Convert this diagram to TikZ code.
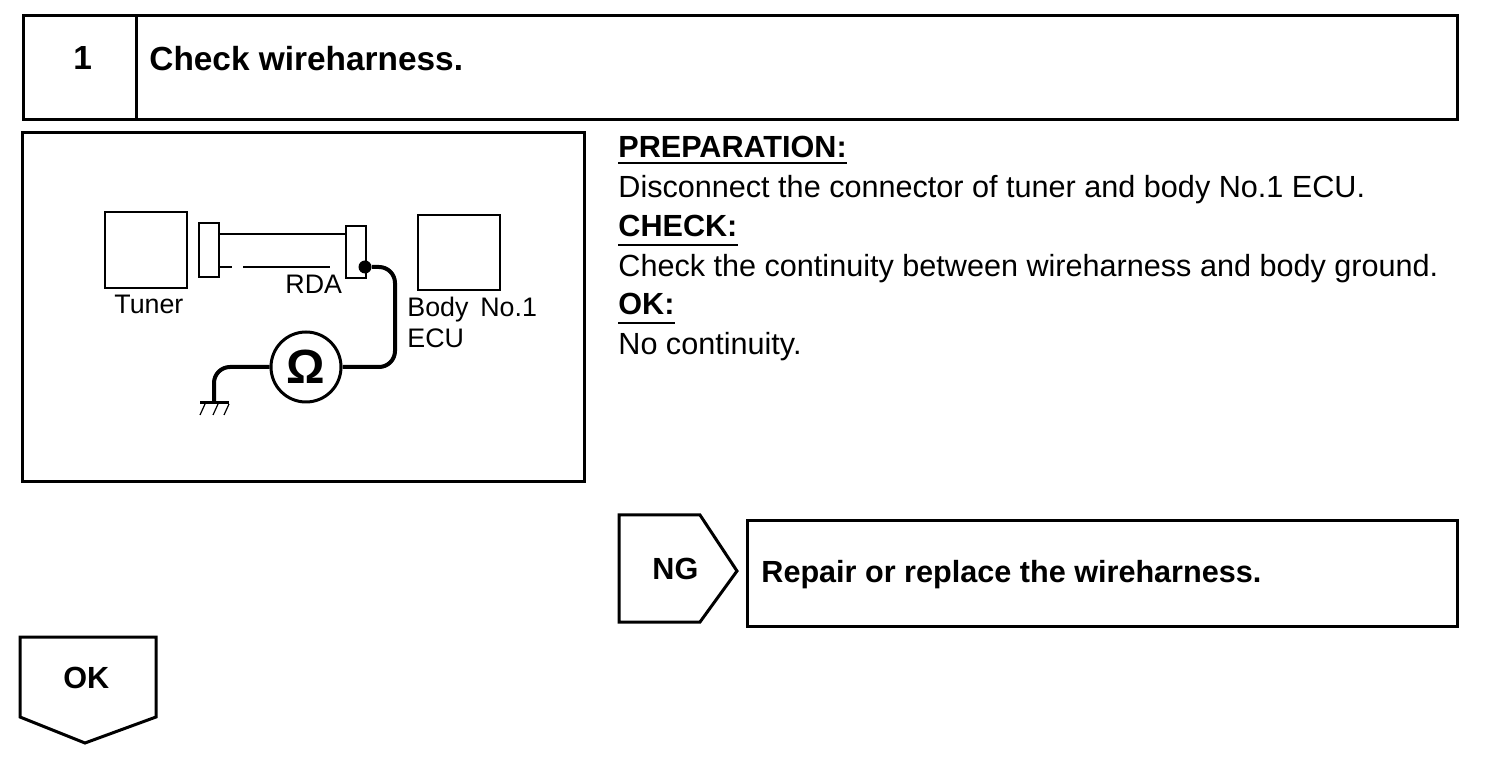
\documentclass[tikz,border=0pt]{standalone}
\usepackage{fontspec}
\setmainfont{Liberation Sans}
\usetikzlibrary{positioning,calc}

\begin{document}
\begin{tikzpicture}[x=0.5pt, y=-0.5pt,
    step cell/.style={rectangle, draw, line width=1.7pt, inner sep=0pt, anchor=north west},
    frame box/.style={rectangle, draw, line width=1.2pt, inner sep=0pt, anchor=north west},
    plug box/.style={rectangle, draw, line width=1pt, inner sep=0pt, anchor=north west},
    gate line/.style={line width=1.5pt, line join=miter},
    wire line/.style={line width=2pt, rounded corners=8pt},
    thin line/.style={line width=1pt},
    head text/.style={inner sep=0pt, anchor=base west, font=\fontsize{16.7}{18}\selectfont\bfseries},
    label text/.style={inner sep=0pt, anchor=base west, font=\fontsize{15.3}{18}\selectfont\bfseries},
    body text/.style={inner sep=0pt, anchor=base west, font=\fontsize{15.3}{18}\selectfont},
    part text/.style={inner sep=0pt, anchor=base west, font=\fontsize{13.4}{16}\selectfont}]

    \useasboundingbox (0,0) rectangle (1504,758);

    \node [step cell, minimum width=56.5pt, minimum height=52pt] (num) at (21.5,14) {};
    \node [step cell, minimum width=660.5pt, minimum height=52pt] (title) at (135,14) {};
    \node [head text] (numtext) at (73,70) {1};
    \node [head text] (titletext) at (149,70.5) {Check wireharness.};

    \node [step cell, minimum width=281pt, minimum height=174.5pt] (figure) at (20.5,131) {};

    \node [frame box, minimum width=41pt, minimum height=38pt] (tuner) at (104,211) {};
    \node [frame box, minimum width=41pt, minimum height=37.5pt] (body) at (417,214) {};
    \node [plug box, minimum width=10pt, minimum height=27pt] (plugl) at (198,222) {};
    \node [plug box, minimum width=10pt, minimum height=26pt] (plugr) at (345,225) {};
    \node [part text] (tunertext) at (114,314) {Tuner};
    \node [part text] (rdatext) at (285,294) {RDA};
    \node [part text] (bodytext) at (407,317) {Body\, No.1};
    \node [part text] (ecutext) at (407,348) {ECU};

    \draw [thin line] (plugl.east |- 0,234) -- (plugr.west |- 0,234);
    \draw [thin line] (plugl.east |- 0,267) -- (232,267);
    \draw [thin line] (243,267) -- (330,267);

    \node [circle, fill, inner sep=0pt, minimum size=6.5pt] (dot) at (365,267) {};
    \node [circle, draw, line width=1.5pt, inner sep=0pt, minimum size=35pt,
        font=\fontsize{24}{24}\selectfont\bfseries] (meter) at (306,367) {Ω};
    \coordinate (wirebend) at (395,367);
    \coordinate (groundbend) at (214,367);
    \coordinate (groundpin) at (214,403);
    \node [inner sep=0pt, minimum size=0pt] (groundl) at (200,403) {};
    \node [inner sep=0pt, minimum size=0pt] (groundr) at (229,403) {};

    \draw [wire line] (dot) -| (wirebend) -- (meter.east);
    \draw [wire line] (meter.west) -- (groundbend) -- (groundpin);
    \draw [gate line] (groundl) -- (groundr);
    \foreach \hx in {205,218,229}
        \draw [line width=0.6pt] (\hx,404) -- (\hx-5,415);

    \node [label text] (prep) at (618,158) {PREPARATION:};
    \node [body text] (prepbody) at (618,198) {Disconnect the connector of tuner and body No.1 ECU.};
    \node [label text] (check) at (618,237) {CHECK:};
    \node [body text] (checkbody) at (618,277) {Check the continuity between wireharness and body ground.};
    \node [label text] (ok) at (618,315) {OK:};
    \node [body text] (okbody) at (618,355) {No continuity.};

    \draw [thin line] (618,163) -- (prep.base east |- 0,163);
    \draw [thin line] (618,245) -- (check.base east |- 0,245);
    \draw [thin line] (618,323) -- (ok.base east |- 0,323);

    \draw [gate line] (619,515) -- (700,515) -- (737,571) -- (700,622) -- (619,622) -- cycle;
    \node [label text] (ngtext) at (652,580) {NG};
    \node [step cell, minimum width=355pt, minimum height=53pt] (repair) at (746,519) {};
    \node [label text] (repairtext) at (761,582) {Repair or replace the wireharness.};

    \draw [gate line] (20,637) -- (156,637) -- (156,717) -- (85,743) -- (20,717) -- cycle;
    \node [label text] (oktext) at (63,688) {OK};

\end{tikzpicture}
\end{document}
